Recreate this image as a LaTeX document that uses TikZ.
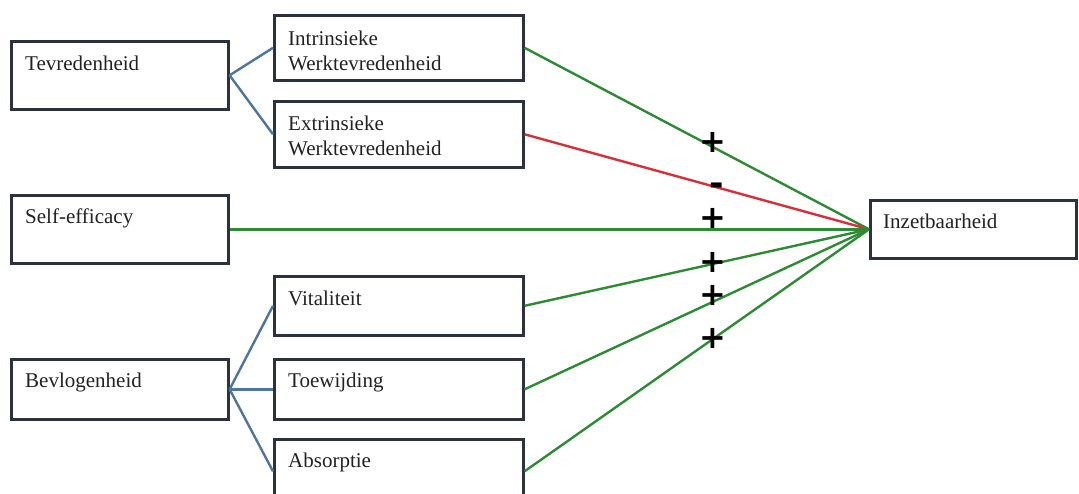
\documentclass[tikz,border=0pt]{standalone}
\usepackage{fontspec}
\setmainfont{Liberation Serif}
\newfontfamily\signfont{DejaVu Sans}
\usetikzlibrary{calc}
\definecolor{boxc}{HTML}{2B323D}
\definecolor{linkblue}{HTML}{4F74A0}
\definecolor{posgreen}{HTML}{2F8A35}
\definecolor{negred}{HTML}{D8303A}
\definecolor{txtc}{HTML}{222222}
\tikzset{
  box/.style 2 args={draw=boxc, line width=2.6pt, anchor=north west, inner sep=0pt,
    minimum width=#1pt, minimum height=#2pt, fill=white},
  lbl/.style={anchor=base west, inner sep=0pt, align=left, text=txtc,
    font=\fontsize{21}{25}\selectfont},
  treelink/.style={draw=linkblue, line width=2.4pt},
  poslink/.style={draw=posgreen, line width=2.4pt},
  neglink/.style={draw=negred, line width=2.4pt},
  signmark/.style={inner sep=0pt, text=black, text height=22pt, text depth=0pt,
    font=\signfont\bfseries\fontsize{32}{32}\selectfont},
  minusmark/.style={signmark, font=\signfont\bfseries\fontsize{35}{35}\selectfont,
    text height=13pt, text depth=-8pt}
}
\begin{document}
\begin{tikzpicture}[x=1pt,y=-1pt]
\useasboundingbox (0,0) rectangle (1079,493);
\fill[white] (0,0) rectangle (1079,493);
% boxes
\node[box={217}{68}] (tev) at (10,40) {};
\node[box={249}{65}] (intr) at (273,14) {};
\node[box={249}{66}] (extr) at (273,100) {};
\node[box={217}{68}] (self) at (10,194) {};
\node[box={249}{59}] (vit) at (273,275) {};
\node[box={217}{60}] (bev) at (10,358) {};
\node[box={249}{60}] (toew) at (273,358) {};
\node[box={249}{64}] (abs) at (273,438) {};
\node[box={206}{58}] (inz) at (869,199) {};
% labels (multi-line labels: base is the last line)
\node[lbl] (tevt) at ($(tev.north west)+(15,30)$) {Tevredenheid};
\node[lbl] (intrt) at ($(intr.north west)+(15,56)$) {Intrinsieke\\Werktevredenheid};
\node[lbl] (extrt) at ($(extr.north west)+(15,55)$) {Extrinsieke\\Werktevredenheid};
\node[lbl] (selft) at ($(self.north west)+(15,29)$) {Self-efficacy};
\node[lbl] (vitt) at ($(vit.north west)+(15,30)$) {Vitaliteit};
\node[lbl] (bevt) at ($(bev.north west)+(15,29)$) {Bevlogenheid};
\node[lbl] (toewt) at ($(toew.north west)+(15,29)$) {Toewijding};
\node[lbl] (abst) at ($(abs.north west)+(15,29)$) {Absorptie};
\node[lbl] (inzt) at ($(inz.north west)+(14,29)$) {Inzetbaarheid};
% tree links
\draw[treelink] (tev.east) -- (intr.west);
\draw[treelink] (tev.east) -- (extr.west);
\draw[treelink] (bev.east) -- (vit.west);
\draw[treelink] (bev.east) -- (toew.west);
\draw[treelink] (bev.east) -- (abs.west);
% effect links
\draw[poslink] (intr.east) -- (inz.west);
\draw[neglink] (extr.east) -- (inz.west);
\draw[poslink] (self.east) -- (inz.west);
\draw[poslink] (vit.east) -- (inz.west);
\draw[poslink] (toew.east) -- (inz.west);
\draw[poslink] (abs.east) -- (inz.west);
% signs
\node[signmark] (p1) at (713,141) {+};
\node[minusmark] (m1) at (717,189) {-};
\node[signmark] (p3) at (713,217) {+};
\node[signmark] (p4) at (713,261) {+};
\node[signmark] (p5) at (713,294) {+};
\node[signmark] (p6) at (713,337) {+};
\end{tikzpicture}
\end{document}
